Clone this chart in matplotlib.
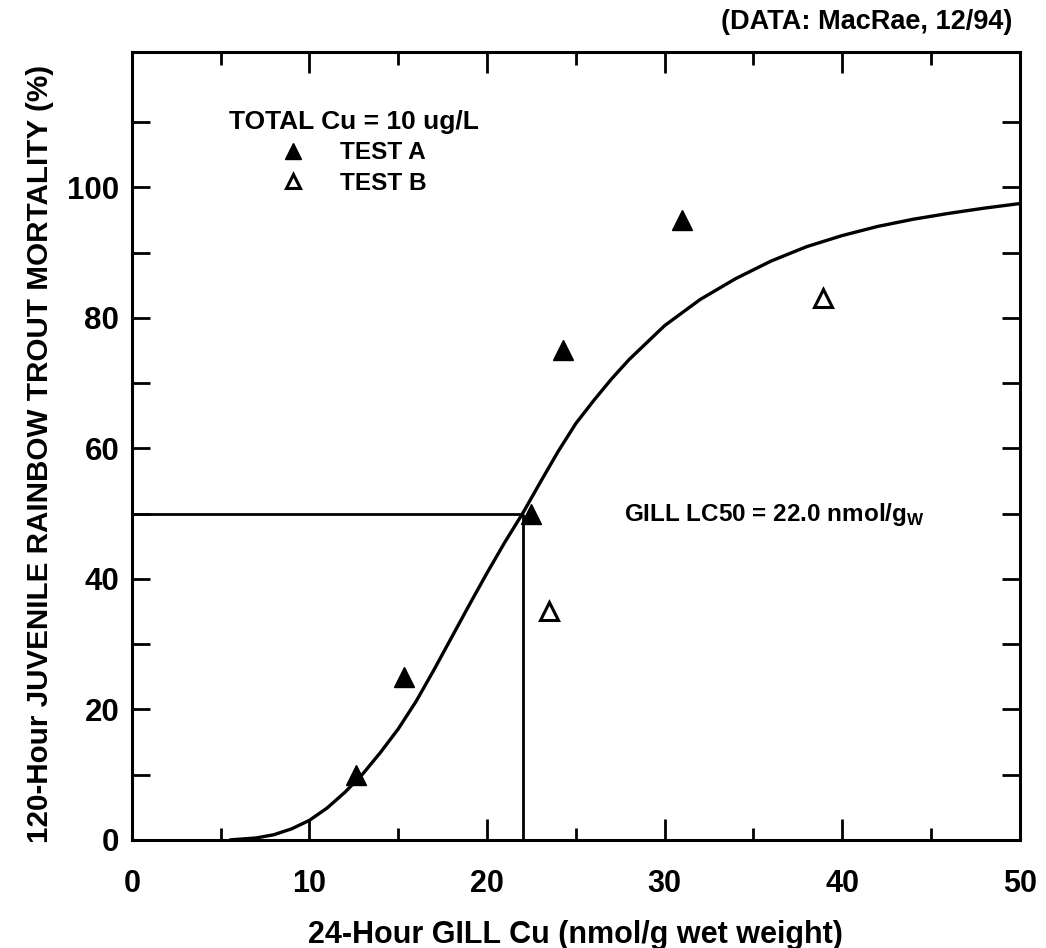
import matplotlib.pyplot as plt

plt.rcParams['font.family'] = ['Liberation Sans', 'DejaVu Sans']
plt.rcParams['font.weight'] = 'bold'
plt.rcParams['mathtext.fontset'] = 'custom'
plt.rcParams['mathtext.bf'] = 'Liberation Sans:bold'
plt.rcParams['mathtext.rm'] = 'Liberation Sans:bold'

# measured points
test_a_x = [12.6, 15.3, 22.5, 24.3, 31.0]
test_a_y = [10, 25, 50, 75, 95]
test_b_x = [23.5, 38.9]
test_b_y = [35, 83]

# fitted curve
curve_x = [5.5, 7, 8, 9, 10, 11, 12, 13, 14, 15, 16, 17, 18, 19, 20, 21, 22,
           23, 24, 25, 26, 27, 28, 30, 32, 34, 36, 38, 40, 42, 44, 46, 48, 50]
curve_y = [0.0, 0.3, 0.8, 1.7, 3.0, 4.9, 7.3, 10.1, 13.4, 17.0, 21.2, 26.0,
           31.0, 36.0, 40.9, 45.6, 50.0, 54.8, 59.5, 63.8, 67.3, 70.6, 73.6,
           78.8, 82.8, 86.0, 88.7, 90.9, 92.6, 94.0, 95.1, 96.0, 96.8, 97.5]

lc50 = 22.0
x_ticks = [0, 10, 20, 30, 40, 50]
y_ticks = [0, 20, 40, 60, 80, 100]

fig = plt.figure(figsize=(10.46, 9.48), dpi=100)
ax = fig.add_axes([0.126, 0.114, 0.849, 0.831])

ax.plot(curve_x, curve_y, color='black', lw=2.4, solid_capstyle='butt')
ax.hlines(50, 0, lc50, color='black', lw=2)
ax.vlines(lc50, 0, 50, color='black', lw=2)

ax.plot(test_a_x, test_a_y, '^', ms=15, color='black', ls='none', label='TEST A')
ax.plot(test_b_x, test_b_y, '^', ms=13, mfc='white', mec='black', mew=2.2,
        ls='none', label='TEST B')

ax.set_xlim(0, 50)
ax.set_ylim(0, 120.7)

ax.set_xticks(x_ticks)
ax.set_xticklabels([str(v) for v in x_ticks])
ax.set_xticks([5, 15, 25, 35, 45], minor=True)
ax.set_yticks(y_ticks)
ax.set_yticklabels([str(v) for v in y_ticks])
ax.set_yticks([10, 30, 50, 70, 90, 110], minor=True)

ax.tick_params(which='both', direction='in', top=True, right=True, width=2)
ax.tick_params(axis='x', which='major', length=15, labelsize=22, pad=21)
ax.tick_params(axis='x', which='minor', length=9)
ax.tick_params(axis='y', which='both', length=13)
ax.tick_params(axis='y', which='major', labelsize=22.5, pad=9)

for s in ax.spines.values():
    s.set_linewidth(2.2)

ax.set_xlabel('24-Hour GILL Cu (nmol/g wet weight)', fontsize=22, fontweight='bold')
ax.xaxis.set_label_coords(0.5, -0.1015)
ax.set_ylabel('120-Hour JUVENILE RAINBOW TROUT MORTALITY (%)', fontsize=21.3,
              fontweight='bold')
ax.yaxis.set_label_coords(-0.088, 0.49)

leg = ax.legend(title='TOTAL Cu = 10 ug/L', loc='center',
                bbox_to_anchor=(0.25, 0.873), frameon=False,
                prop={'weight': 'bold', 'size': 17.6},
                title_fontproperties={'weight': 'bold', 'size': 19},
                markerscale=0.8, handlelength=1, handletextpad=1.4,
                labelspacing=0.3, borderpad=0)

ax.text(27.7, 48.8, r'GILL LC50 = 22.0 nmol/g$_{\mathbf{W}}$', fontsize=17.5,
        fontweight='bold', va='baseline')

fig.text(0.9675, 0.977, '(DATA: MacRae, 12/94)', ha='right', va='center',
         fontsize=19.5, fontweight='bold')

fig.savefig('out.png', dpi=100)
